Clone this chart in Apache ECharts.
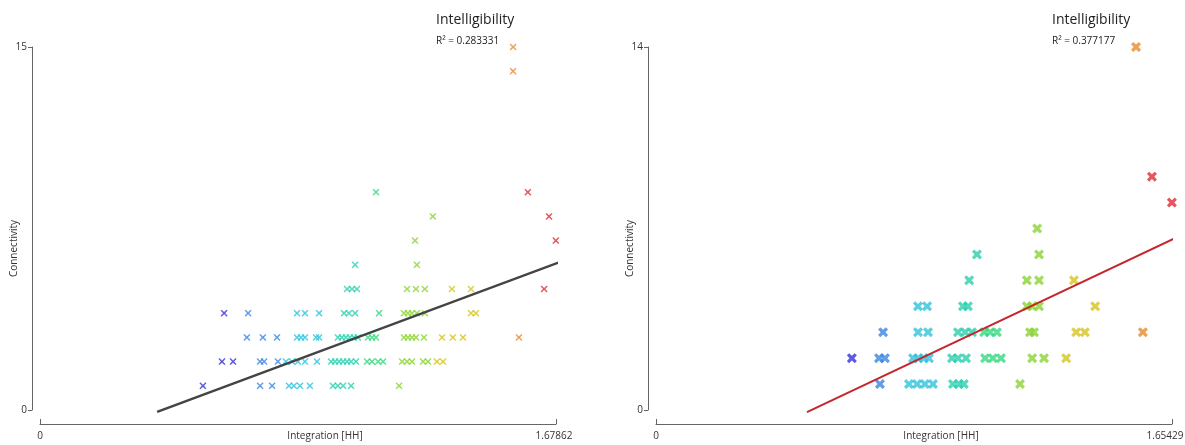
<!DOCTYPE html>
<html>
<head>
<meta charset="utf-8">
<script src="https://cdn.jsdelivr.net/npm/echarts@6/dist/echarts.min.js"></script>
<style>
  html, body { margin: 0; padding: 0; background: #fff; }
  #chart { width: 1185px; height: 445px; }
</style>
</head>
<body>
<div id="chart"></div>
<script>
// left panel: [Integration [HH], Connectivity]
const leftPoints = [
  [0.530, 1], [0.716, 1], [0.755, 1], [0.810, 1], [0.826, 1], [0.846, 1], [0.878, 1],
  [0.953, 1], [0.969, 1], [0.986, 1], [1.012, 1], [1.168, 1],
  [0.592, 2], [0.628, 2], [0.716, 2], [0.729, 2], [0.774, 2], [0.800, 2], [0.820, 2],
  [0.839, 2], [0.862, 2], [0.901, 2], [0.947, 2], [0.960, 2], [0.973, 2], [0.986, 2],
  [0.999, 2], [1.012, 2], [1.028, 2], [1.064, 2], [1.080, 2], [1.100, 2], [1.116, 2],
  [1.178, 2], [1.194, 2], [1.210, 2], [1.246, 2], [1.262, 2], [1.291, 2], [1.311, 2],
  [0.673, 3], [0.725, 3], [0.771, 3], [0.836, 3], [0.849, 3], [0.862, 3], [0.898, 3],
  [0.908, 3], [0.969, 3], [0.982, 3], [0.995, 3], [1.008, 3], [1.021, 3], [1.034, 3],
  [1.067, 3], [1.080, 3], [1.093, 3], [1.184, 3], [1.197, 3], [1.210, 3], [1.223, 3],
  [1.249, 3], [1.308, 3], [1.343, 3], [1.376, 3], [1.558, 3],
  [0.599, 4], [0.677, 4], [0.836, 4], [0.862, 4], [0.908, 4], [0.989, 4], [1.005, 4],
  [1.025, 4], [1.103, 4], [1.184, 4], [1.197, 4], [1.210, 4], [1.226, 4], [1.252, 4],
  [1.402, 4], [1.418, 4],
  [0.999, 5], [1.015, 5], [1.031, 5], [1.194, 5], [1.223, 5], [1.252, 5], [1.340, 5],
  [1.402, 5], [1.640, 5],
  [1.025, 6], [1.226, 6],
  [1.220, 7], [1.678, 7],
  [1.278, 8], [1.656, 8],
  [1.093, 9], [1.587, 9],
  [1.539, 14], [1.539, 15]
];
const leftFit = [[0.381, -0.08], [1.701, 6.16]];
const leftXMax = 1.67862;
const leftYMax = 15;
const leftR2 = 'R² = 0.283331';

// right panel
const rightPoints = [
  [0.718, 1], [0.811, 1], [0.837, 1], [0.862, 1], [0.888, 1], [0.952, 1], [0.971, 1],
  [0.987, 1], [1.167, 1],
  [0.628, 2], [0.715, 2], [0.734, 2], [0.824, 2], [0.840, 2], [0.859, 2], [0.875, 2],
  [0.949, 2], [0.968, 2], [0.994, 2], [1.055, 2], [1.080, 2], [1.106, 2], [1.206, 2],
  [1.244, 2], [1.315, 2],
  [0.728, 3], [0.840, 3], [0.872, 3], [0.968, 3], [0.991, 3], [1.013, 3], [1.052, 3],
  [1.071, 3], [1.093, 3], [1.199, 3], [1.212, 3], [1.347, 3], [1.375, 3], [1.561, 3],
  [0.840, 4], [0.869, 4], [0.984, 4], [1.000, 4], [1.189, 4], [1.206, 4], [1.228, 4],
  [1.408, 4],
  [1.004, 5], [1.189, 5], [1.228, 5], [1.340, 5],
  [1.029, 6], [1.228, 6],
  [1.222, 7],
  [1.654, 8],
  [1.590, 9],
  [1.539, 14]
];
const rightFit = [[0.484, -0.08], [1.664, 6.63]];
const rightXMax = 1.65429;
const rightYMax = 14;
const rightR2 = 'R² = 0.377177';

const thinCross = 'path://M1.3,0 L5,3.4 L8.7,0 L10,1.3 L6.6,5 L10,8.7 L8.7,10 L5,6.6 L1.3,10 L0,8.7 L3.4,5 L0,1.3 Z';
const boldCross = 'path://M2.2,0 L5,2.6 L7.8,0 L10,2.2 L7.4,5 L10,7.8 L7.8,10 L5,7.4 L2.2,10 L0,7.8 L2.6,5 L0,2.2 Z';

const FONT = '"Open Sans", "Noto Sans", sans-serif';
const colourPieces = [
  { lt: 0.65, color: '#3532d8' },
  { gte: 0.65, lt: 0.795, color: '#3a86e2' },
  { gte: 0.795, lt: 0.93, color: '#2fc3dc' },
  { gte: 0.93, lt: 1.045, color: '#2bd0ae' },
  { gte: 1.045, lt: 1.14, color: '#34d87e' },
  { gte: 1.14, lt: 1.29, color: '#8bd334' },
  { gte: 1.29, lt: 1.5, color: '#d6c41e' },
  { gte: 1.5, lt: 1.575, color: '#e88a2c' },
  { gte: 1.575, color: '#e02c34' }
];

function xAxisFor(idx, max, shiftMax) {
  return {
    gridIndex: idx, type: 'value', min: 0, max: max, interval: max,
    offset: 14,
    axisLine: { show: true, onZero: false, lineStyle: { color: '#666', width: 1 } },
    axisTick: { show: true, inside: true, length: 5, lineStyle: { color: '#666' } },
    axisLabel: {
      fontSize: 10, color: '#333', fontFamily: FONT, margin: 7, hideOverlap: false,
      formatter: v => (v === 0 ? '0' : '{m|' + v + '}'),
      rich: { m: { fontSize: 10, color: '#333', fontFamily: FONT, padding: [0, shiftMax, 0, 0] } }
    },
    splitLine: { show: false },
    name: 'Integration [HH]', nameLocation: 'middle', nameGap: 7, nameMoveOverlap: false,
    nameTextStyle: { fontSize: 10, color: '#333', fontFamily: FONT, padding: [0, 0, 0, 54] }
  };
}

function yAxisFor(idx, max) {
  return {
    gridIndex: idx, type: 'value', min: 0, max: max, interval: max,
    offset: 8,
    axisLine: { show: true, onZero: false, lineStyle: { color: '#666', width: 1 } },
    axisTick: { show: true, length: 4, lineStyle: { color: '#666' } },
    axisLabel: { fontSize: 10, color: '#333', fontFamily: FONT, margin: 5 },
    splitLine: { show: false },
    name: 'Connectivity', nameLocation: 'middle', nameGap: 13, nameMoveOverlap: false,
    nameTextStyle: { fontSize: 10, color: '#333', fontFamily: FONT, padding: [0, 40, 0, 0] }
  };
}

const chart = echarts.init(document.getElementById('chart'));
chart.setOption({
  backgroundColor: '#fff',
  animation: false,
  title: [
    {
      text: 'Intelligibility', subtext: leftR2, left: 436, top: 13, padding: 0, itemGap: 9,
      textStyle: { fontSize: 14, fontWeight: 'normal', color: '#222', fontFamily: FONT },
      subtextStyle: { fontSize: 10, color: '#222', fontFamily: FONT }
    },
    {
      text: 'Intelligibility', subtext: rightR2, left: 1052, top: 13, padding: 0, itemGap: 9,
      textStyle: { fontSize: 14, fontWeight: 'normal', color: '#222', fontFamily: FONT },
      subtextStyle: { fontSize: 10, color: '#222', fontFamily: FONT }
    }
  ],
  grid: [
    { left: 40, top: 47, width: 516, height: 363, outerBoundsMode: 'none' },
    { left: 656, top: 47, width: 516, height: 363, outerBoundsMode: 'none' }
  ],
  xAxis: [xAxisFor(0, leftXMax, 4), xAxisFor(1, rightXMax, 14)],
  yAxis: [yAxisFor(0, leftYMax), yAxisFor(1, rightYMax)],
  visualMap: [
    { type: 'piecewise', show: false, dimension: 0, seriesIndex: [0, 2], pieces: colourPieces }
  ],
  series: [
    {
      type: 'scatter', xAxisIndex: 0, yAxisIndex: 0, data: leftPoints,
      symbol: thinCross, symbolSize: 7, clip: false
    },
    {
      type: 'line', xAxisIndex: 0, yAxisIndex: 0, data: leftFit, clip: false,
      symbol: 'none', lineStyle: { color: '#444', width: 2.5 }, z: 3
    },
    {
      type: 'scatter', xAxisIndex: 1, yAxisIndex: 1, data: rightPoints,
      symbol: boldCross, symbolSize: 10, clip: false
    },
    {
      type: 'line', xAxisIndex: 1, yAxisIndex: 1, data: rightFit, clip: false,
      symbol: 'none', lineStyle: { color: '#c4262b', width: 2 }, z: 3
    }
  ]
});
</script>
</body>
</html>
